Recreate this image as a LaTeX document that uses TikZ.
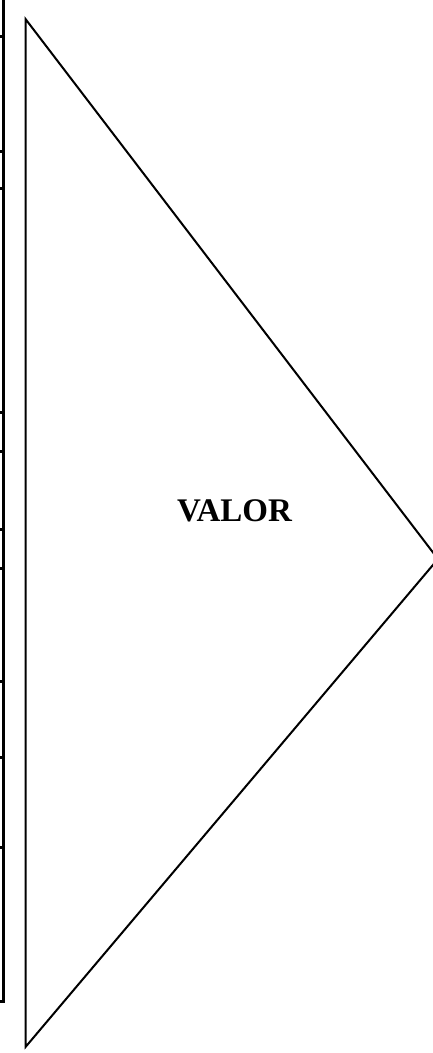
\documentclass[tikz,border=0pt]{standalone}
\usepackage{fontspec}
\setmainfont{Liberation Serif}
\begin{document}
\begin{tikzpicture}[x=1pt,y=-1pt,
  tri/.style={draw=black,line width=2pt,line join=miter},
  rule/.style={draw=black,line width=3pt},
  lbl/.style={font=\bfseries\fontsize{33}{38}\selectfont,inner sep=0pt,anchor=base}]
\useasboundingbox (0,0) rectangle (433,1053);
% cut-off table edge on the left
\draw[rule] (3,0) -- (3,1001) -- (0,1001);
\foreach \y in {36,151,188,412,451,529,568,681,757,847}
  \draw[rule] (0,\y) -- (3,\y);
% triangle
\coordinate (t) at (25.5,19);
\coordinate (b) at (25.5,1047);
\coordinate (p) at (438,559);
\draw[tri] (t) -- (p) -- (b) -- cycle;
\node[lbl] (v) at (234.5,521.5) {VALOR};
\end{tikzpicture}
\end{document}
